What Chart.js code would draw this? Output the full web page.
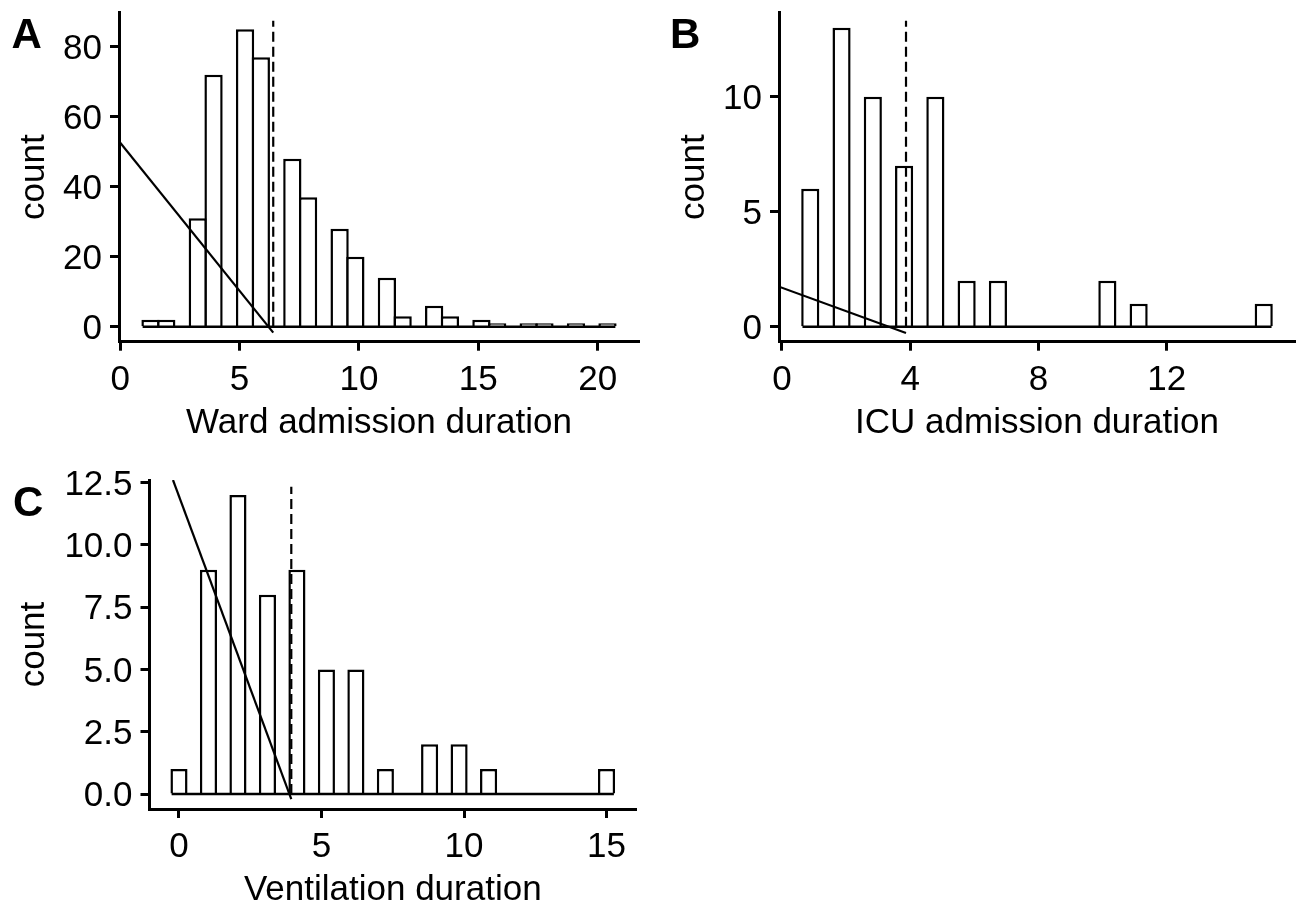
<!DOCTYPE html>
<html>
<head>
<meta charset="utf-8">
<title>Duration histograms</title>
<script src="https://cdn.jsdelivr.net/npm/chart.js@4.4.1/dist/chart.umd.min.js"></script>
<style>
  html, body { margin: 0; padding: 0; background: #fff; }
  body { width: 1297px; height: 909px; position: relative; overflow: hidden; }
  canvas { position: absolute; }
</style>
</head>
<body>
<canvas id="wardChart" width="640" height="455" style="left:0;top:0"></canvas>
<canvas id="icuChart" width="657" height="455" style="left:640px;top:0"></canvas>
<canvas id="ventChart" width="640" height="454" style="left:0;top:455px"></canvas>
<script>

// ---- DATA ----

// A: ward admission duration, 30 bins
const wardCounts = [2, 2, 0, 31, 72, 0, 85, 77, 0, 48, 37, 0, 28, 20, 0, 14, 3, 0, 6, 3, 0, 2, 1, 0, 1, 1, 0, 1, 0, 1];
const wardBinStart = 0.94;
const wardBinWidth = 0.66;
const wardMarker = [6.41, 87.4];          // dashed line: x, top
const wardFitX = [-0.05, 6.41];
const wardFitY = [53, -1.7];
const wardXTicks = [0, 5, 10, 15, 20];
const wardYTicks = [0, 20, 40, 60, 80];
const wardYTickLabels = ["0", "20", "40", "60", "80"];
const wardYRange = [-4.3, 89.7];

// B: ICU admission duration
const icuCounts = [6, 0, 13, 0, 10, 0, 7, 0, 10, 0, 2, 0, 2, 0, 0, 0, 0, 0, 0, 2, 0, 1, 0, 0, 0, 0, 0, 0, 0, 1];
const icuBinStart = 0.64;
const icuBinWidth = 0.4877;
const icuMarker = [3.87, 13.3];
const icuFitX = [-0.09, 3.87];
const icuFitY = [1.74, -0.27];
const icuXTicks = [0, 4, 8, 12];
const icuYTicks = [0, 5, 10];
const icuYTickLabels = ["0", "5", "10"];
const icuYRange = [-0.65, 13.65];

// C: ventilation duration
const ventCounts = [1, 0, 9, 0, 12, 0, 8, 0, 9, 0, 5, 0, 5, 0, 1, 0, 0, 2, 0, 2, 0, 1, 0, 0, 0, 0, 0, 0, 0, 1];
const ventBinStart = -0.2586;
const ventBinWidth = 0.5172;
const ventMarker = [3.94, 12.33];
const ventFitX = [-0.21, 3.94];
const ventFitY = [12.6, -0.2];
const ventXTicks = [0, 5, 10, 15];
const ventYTicks = [0, 2.5, 5, 7.5, 10, 12.5];
const ventYTickLabels = ["0.0", "2.5", "5.0", "7.5", "10.0", "12.5"];
const ventYRange = [-0.6, 12.6];


Chart.defaults.font.family = '"Liberation Sans", Arial, sans-serif';
Chart.defaults.color = '#000';

// panel letter in the top-left corner
const panelTag = {
	id: 'panelTag',
	afterDraw(chart, args, opts) {
		const ctx = chart.ctx;
		ctx.save();
		ctx.font = 'bold 42px "Liberation Sans", Arial, sans-serif';
		ctx.fillStyle = '#000';
		ctx.textBaseline = 'alphabetic';
		ctx.fillText(opts.text, opts.x, opts.y);
		ctx.restore();
	}
};

function axisStyle() {
	return {
		grid: {
			display: true,
			drawOnChartArea: false,
			drawTicks: true,
			tickLength: 9,
			tickWidth: 3,
			tickColor: '#000',
			offset: false,
		},
		border: { display: true, color: '#000', width: 3 },
	};
}

function createHistogram(canvasID, p) {
	const binEnd = p.binStart + p.binWidth * p.counts.length;
	const expand = (binEnd - p.binStart) * 0.05;   // ggplot style 5% padding
	const bars = p.counts.map((c, i) => ({ x: p.binStart + p.binWidth * (i + 0.5), y: c }));

	return new Chart(document.getElementById(canvasID), {
		type: 'bar',
		plugins: [panelTag],
		data: {
			datasets: [
				{
					type: 'line',
					data: [{ x: p.fitX[0], y: p.fitY[0] }, { x: p.fitX[1], y: p.fitY[1] }],
					borderColor: '#000',
					borderWidth: 2.2,
					pointRadius: 0,
					order: 0,
				},
				{
					type: 'line',
					data: [{ x: p.marker[0], y: 0 }, { x: p.marker[0], y: p.marker[1] }],
					borderColor: '#000',
					borderWidth: 2.2,
					borderDash: [10, 5],
					pointRadius: 0,
					order: 1,
				},
				{
					// baseline of the histogram (empty bins show as a flat line)
					type: 'line',
					data: [{ x: p.binStart, y: 0 }, { x: binEnd, y: 0 }],
					borderColor: '#000',
					borderWidth: 2.5,
					pointRadius: 0,
					order: 2,
				},
				{
					type: 'bar',
					data: bars,
					backgroundColor: '#fff',
					borderColor: '#000',
					borderWidth: 2.5,
					borderSkipped: 'start',
					categoryPercentage: 1,
					barPercentage: 1.16,
					order: 3,
				},
			],
		},
		options: {
			responsive: false,
			animation: false,
			devicePixelRatio: 1,
			layout: { padding: p.layoutPad },
			plugins: {
				legend: { display: false },
				tooltip: { enabled: false },
				panelTag: p.tag,
			},
			scales: {
				x: {
					type: 'linear',
					min: p.binStart - expand,
					max: binEnd + expand,
					offset: false,
					bounds: 'data',
					...axisStyle(),
					ticks: { color: '#000', font: { size: 35 }, padding: 8.5, maxRotation: 0, autoSkip: false },
					afterBuildTicks: (s) => { s.ticks = p.xTicks.map((v) => ({ value: v })); },
					afterFit: (s) => {
						s.height = p.xAxisHeight;
						s.paddingLeft = 0;
						s.paddingRight = 0;
					},
					title: {
						display: true,
						text: p.xTitle,
						color: '#000',
						font: { size: 35, lineHeight: 1 },
						padding: { top: 0, bottom: p.xTitlePad },
					},
				},
				y: {
					type: 'linear',
					min: p.yRange[0],
					max: p.yRange[1],
					bounds: 'data',
					...axisStyle(),
					ticks: {
						color: '#000',
						font: { size: 35 },
						padding: 8,
						labelOffset: 2.5,
						autoSkip: false,
						callback: (v, i) => p.yTickLabels[i],
					},
					afterBuildTicks: (s) => { s.ticks = p.yTicks.map((v) => ({ value: v })); },
					afterFit: (s) => {
						s.width = p.yAxisWidth;
						s.paddingTop = 0;
						s.paddingBottom = 0;
					},
					title: {
						display: true,
						text: 'count',
						color: '#000',
						font: { size: 35, lineHeight: 1 },
						padding: { top: 17.1, bottom: 0 },
					},
				},
			},
		},
	});
}


createHistogram('wardChart', {
	counts: wardCounts, binStart: wardBinStart, binWidth: wardBinWidth,
	marker: wardMarker, fitX: wardFitX, fitY: wardFitY,
	xTicks: wardXTicks, yTicks: wardYTicks, yTickLabels: wardYTickLabels, yRange: wardYRange,
	xTitle: 'Ward admission duration',
	layoutPad: { top: 12.7, right: 1, left: 0, bottom: 0 },
	yAxisWidth: 119, xAxisHeight: 113.3, xTitlePad: 14.4,
	tag: { text: 'A', x: 11.5, y: 48.3 },
});

createHistogram('icuChart', {
	counts: icuCounts, binStart: icuBinStart, binWidth: icuBinWidth,
	marker: icuMarker, fitX: icuFitX, fitY: icuFitY,
	xTicks: icuXTicks, yTicks: icuYTicks, yTickLabels: icuYTickLabels, yRange: icuYRange,
	xTitle: 'ICU admission duration',
	layoutPad: { top: 12.7, right: 2, left: 20, bottom: 0 },
	yAxisWidth: 119, xAxisHeight: 113.3, xTitlePad: 14.4,
	tag: { text: 'B', x: 30, y: 48.3 },
});

createHistogram('ventChart', {
	counts: ventCounts, binStart: ventBinStart, binWidth: ventBinWidth,
	marker: ventMarker, fitX: ventFitX, fitY: ventFitY,
	xTicks: ventXTicks, yTicks: ventYTicks, yTickLabels: ventYTickLabels, yRange: ventYRange,
	xTitle: 'Ventilation duration',
	layoutPad: { top: 25, right: 4, left: 0, bottom: 0 },
	yAxisWidth: 149.5, xAxisHeight: 100, xTitlePad: 1.1,
	tag: { text: 'C', x: 13, y: 61 },
});

</script>
</body>
</html>
